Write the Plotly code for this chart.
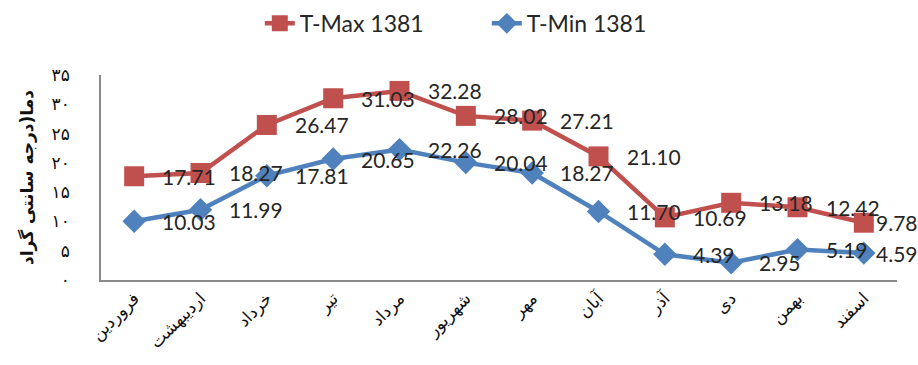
import plotly.graph_objects as go

# Persian month names (1381 solar year)
months = ["فروردین", "اردیبهشت", "خرداد", "تیر", "مرداد", "شهریور",
          "مهر", "آبان", "آذر", "دی", "بهمن", "اسفند"]

# Monthly mean maximum / minimum temperature (°C)
t_max = [17.71, 18.27, 26.47, 31.03, 32.28, 28.02,
         27.21, 21.10, 10.69, 13.18, 12.42, 9.78]
t_min = [10.03, 11.99, 17.81, 20.65, 22.26, 20.04,
         18.27, 11.70, 4.39, 2.95, 5.19, 4.59]

# Y axis ticks with Persian digits
y_ticks = [0, 5, 10, 15, 20, 25, 30, 35]
y_tick_text = ["۰", "۵", "۱۰", "۱۵", "۲۰", "۲۵", "۳۰", "۳۵"]

RED = "#C0504D"
BLUE = "#4F81BD"
LABEL_FONT = dict(family="Lato", size=21, color="#262626")

fig = go.Figure()
fig.add_trace(go.Scatter(
    x=months, y=t_max, name="T-Max 1381", mode="lines+markers",
    line=dict(color=RED, width=4.5),
    marker=dict(symbol="square", size=20, color=RED),
))
fig.add_trace(go.Scatter(
    x=months, y=t_min, name="T-Min 1381", mode="lines+markers",
    line=dict(color=BLUE, width=4.5),
    marker=dict(symbol="diamond", size=18, color=BLUE),
))

# value labels to the right of each marker
annotations = []
for series in (t_max, t_min):
    for i, (m, v) in enumerate(zip(months, series)):
        last = i == len(months) - 1
        annotations.append(dict(
            x=m, y=v, xref="x", yref="y", text=f"{v:.2f}",
            showarrow=False, xanchor="left", yanchor="middle",
            xshift=10 if last else 26, font=LABEL_FONT,
        ))

fig.update_layout(
    width=918, height=365,
    margin=dict(l=101, r=21, t=75, b=82),
    paper_bgcolor="white", plot_bgcolor="white",
    showlegend=True,
    legend=dict(
        orientation="h", xref="container", yref="container",
        x=0.283, xanchor="left", y=0.995, yanchor="top",
        font=dict(family="Lato", size=23, color="#262626"),
        entrywidth=182, entrywidthmode="pixels",
    ),
    annotations=annotations,
)

fig.update_xaxes(
    type="category", range=[-0.5, len(months) - 0.5],
    showline=True, linecolor="#8a8a8a", linewidth=1.5,
    showgrid=False, zeroline=False, ticks="",
    tickangle=-45, tickfont=dict(family="DejaVu Sans", size=17, color="#111"),
)
fig.update_yaxes(
    range=[0, 35], tickvals=y_ticks, ticktext=y_tick_text,
    showline=True, linecolor="#8a8a8a", linewidth=1.5,
    showgrid=False, zeroline=False, ticks="", ticklabelstandoff=26,
    tickfont=dict(family="DejaVu Sans", size=17, color="#111"),
    title=dict(text="دما(درجه سانتی گراد", standoff=14,
               font=dict(family="DejaVu Sans", size=17, color="#111",
                         weight="bold")),
)

fig.write_html("out.html")
